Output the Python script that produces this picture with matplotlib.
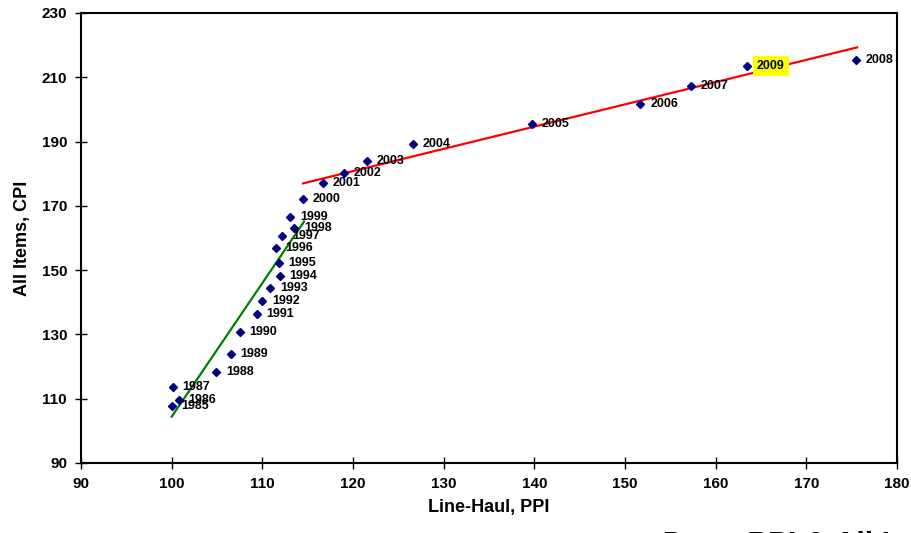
import matplotlib.pyplot as plt

plt.rcParams['font.family'] = ['Liberation Sans', 'DejaVu Sans']

# line-haul PPI vs all items CPI, by year
years = [1985, 1986, 1987, 1988, 1989, 1990, 1991, 1992, 1993, 1994, 1995,
         1996, 1997, 1998, 1999, 2000, 2001, 2002, 2003, 2004, 2005, 2006,
         2007, 2008, 2009]
ppi = [100.0, 100.8, 100.1, 104.9, 106.5, 107.5, 109.4, 110.0, 110.9, 111.9,
       111.8, 111.5, 112.2, 113.5, 113.1, 114.5, 116.7, 119.0, 121.5, 126.6,
       139.7, 151.7, 157.3, 175.5, 163.5]
cpi = [107.7, 109.6, 113.5, 118.3, 124.0, 130.7, 136.3, 140.4, 144.5, 148.3,
       152.3, 157.0, 160.5, 163.0, 166.6, 172.1, 177.1, 180.1, 184.0, 189.1,
       195.4, 201.6, 207.4, 215.4, 213.5]

# trend lines (endpoints)
early_x = [100.0, 114.6]
early_y = [104.4, 165.1]
late_x = [114.5, 175.6]
late_y = [177.0, 219.3]

fig = plt.figure(figsize=(9.11, 5.33), dpi=100)
ax = fig.add_axes([81 / 911, 70 / 533, 816 / 911, 450 / 533])

ax.plot(early_x, early_y, color='green', lw=1.6, zorder=2)
ax.plot(late_x, late_y, color='red', lw=1.6, zorder=2)
ax.plot(ppi, cpi, 'D', color='#000080', ms=4.5, zorder=3)

for yr, x, y in zip(years, ppi, cpi):
    kw = {}
    if yr == 2009:
        kw['bbox'] = dict(boxstyle='square,pad=0.3', fc='yellow', ec='none')
    ax.annotate(str(yr), (x, y), xytext=(7, 0), textcoords='offset points',
                ha='left', va='center', fontsize=9, fontweight='bold', **kw)

ax.set_xlim(90, 180)
ax.set_ylim(90, 230)
ax.set_xticks(range(90, 181, 10))
ax.set_yticks(range(90, 231, 20))
ax.tick_params(direction='inout', length=8, width=1, labelsize=11, pad=6)
for lab in ax.get_xticklabels() + ax.get_yticklabels():
    lab.set_fontweight('bold')
for s in ax.spines.values():
    s.set_linewidth(1.5)

ax.set_xlabel("Line-Haul, PPI", fontsize=13, fontweight='bold', labelpad=6)
ax.set_ylabel("All Items, CPI", fontsize=13, fontweight='bold', labelpad=8)

# source note, cut off at the bottom edge as in the original slide
fig.text(663 / 911, 2 / 533, "Data: PPI & All Items", fontsize=22,
         fontweight='bold', ha='left', va='top')

fig.savefig("out.png")
